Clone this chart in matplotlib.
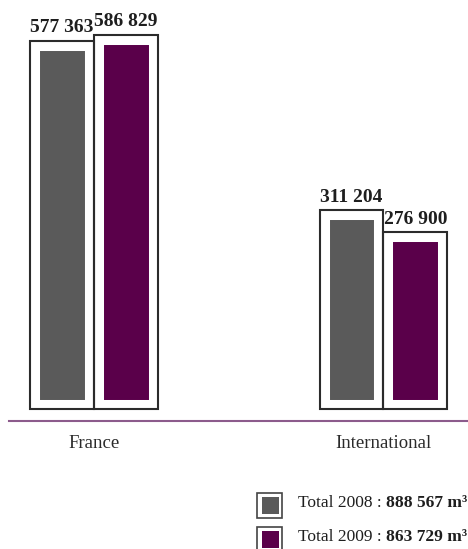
import matplotlib
matplotlib.use("Agg")
import matplotlib.pyplot as plt
from matplotlib.patches import Rectangle
from matplotlib.lines import Line2D
import numpy as np

# --- data -------------------------------------------------------------
categories = ["France", "International"]
values_2008 = [577363, 311204]
values_2009 = [586829, 276900]
legend_labels = ["Total 2008 :", "Total 2009 :"]
legend_totals = ["888 567 m³", "863 729 m³"]

# --- style ------------------------------------------------------------
GREY = "#5a5a5a"
PURPLE = "#5a004a"
FRAME = "#2b2b2b"
RULE = "#8c5b8c"
TEXT = "#1e1e1e"

W, H, DPI = 468, 549, 100
plt.rcParams["font.family"] = ["Liberation Serif", "DejaVu Serif"]

fig = plt.figure(figsize=(W / DPI, H / DPI), dpi=DPI)

# plotting area: its bottom edge is the bars' baseline
base_px = 409
ax = fig.add_axes([0, (H - base_px) / H, 1, base_px / H])
ax.set_xlim(-0.3247, 1.2919)
ax.set_ylim(0, 641000)
ax.axis("off")

x = np.arange(len(categories))
width = 0.221
offsets = [-width / 2, width / 2]
series = [(values_2008, GREY), (values_2009, PURPLE)]

# coloured core: a wide white edge leaves a white margin inside each frame
for (vals, col), off in zip(series, offsets):
    bars = ax.bar(x + off, vals, width, color=col, edgecolor="white",
                  linewidth=13.7, zorder=2)
    for b in bars:
        b.set_joinstyle("miter")

# outline frame at the full value
for (vals, col), off in zip(series, offsets):
    ax.bar(x + off, vals, width, fill=False, edgecolor=FRAME,
           linewidth=1.5, zorder=3, clip_on=False)

# value labels
for (vals, col), off in zip(series, offsets):
    for xi, v in zip(x, vals):
        ax.annotate(f"{v:,}".replace(",", " "), (xi + off, v),
                    xytext=(0, 6), textcoords="offset points",
                    ha="center", va="baseline", fontsize=14,
                    fontweight="bold", color=TEXT, zorder=4)

# category labels
for xi, name in zip(x, categories):
    ax.annotate(name, (xi, 0), xycoords=("data", "axes fraction"),
                xytext=(0, -28.1), textcoords="offset points",
                ha="center", va="baseline", fontsize=13.5, color="#2a2a2a",
                annotation_clip=False)


# --- figure-level furniture ------------------------------------------
def fx(px):
    return px / W


def fy(py):
    return (H - py) / H


fig.add_artist(Line2D([fx(9), fx(W)], [fy(421), fy(421)], color=RULE,
                      linewidth=1.5, transform=fig.transFigure))

# legend
for i, ((vals, col), lab, tot) in enumerate(zip(series, legend_labels,
                                                 legend_totals)):
    top = 493 + 34 * i
    fig.add_artist(Rectangle((fx(257), fy(top + 25)), 25 / W, 25 / H,
                             facecolor="white", edgecolor="#444444",
                             linewidth=1.2, transform=fig.transFigure))
    fig.add_artist(Rectangle((fx(262), fy(top + 21)), 17 / W, 17 / H,
                             facecolor=col, edgecolor="none",
                             transform=fig.transFigure))
    baseline = 511 + 34 * i
    t = fig.text(fx(298), fy(baseline), lab, fontsize=12.5, color=TEXT,
                 ha="left", va="bottom")
    fig.add_artist(plt.Annotation(
        tot, xy=(1, 0), xycoords=t, xytext=(3, 0),
        textcoords="offset points", ha="left", va="bottom",
        fontsize=12.5, fontweight="bold", color=TEXT))

fig.savefig("out.png", dpi=DPI)
